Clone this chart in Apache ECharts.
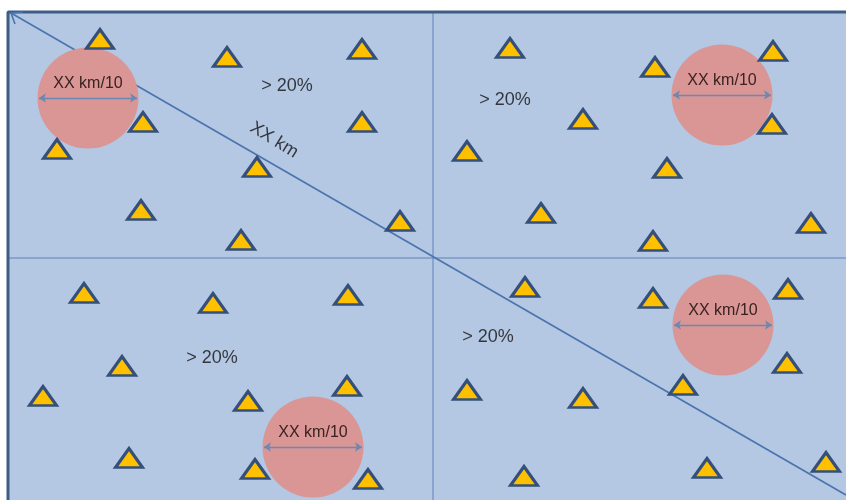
<!DOCTYPE html>
<html>
<head>
<meta charset="utf-8">
<script src="https://cdn.jsdelivr.net/npm/echarts@6/dist/echarts.min.js"></script>
<style>html,body{margin:0;padding:0;background:#fff}#c{width:846px;height:500px}</style>
</head>
<body>
<div id="c"></div>
<script>
// Diagram space: x 0..846, y 0..500 (y downward)
const panel = [[8, 12], [860, 520]];
const borderPath = [[8, 520], [8, 12], [860, 12]];
const dividerV = [[433, 12], [433, 520]];
const dividerH = [[8, 258], [860, 258]];
const diagonal = [[11, 13], [846, 495]];
const arrowHead = [[23, 12], [11, 13], [15, 24]];

const stations = [
  // top-left
  [100, 39], [227, 57], [362, 49], [143, 122], [57, 149], [362, 122], [257, 167], [141, 210], [400, 221], [241, 240],
  // top-right
  [510, 48], [655, 67], [773, 51], [583, 119], [772, 124], [467, 151], [667, 168], [541, 213], [653, 241], [811, 223],
  // bottom-left
  [84, 293], [213, 303], [348, 295], [122, 366], [43, 396], [248, 401], [347, 386], [129, 458], [255, 469], [368, 479],
  // bottom-right
  [525, 287], [653, 298], [788, 289], [787, 363], [467, 390], [583, 398], [683, 385], [524, 476], [707, 468], [826, 462]
];

const circleCenters = [[88, 98], [722, 95], [313, 447], [723, 325]];
const circleRadius = 50;
const circleLabel = 'XX km/10';

const quadrantLabels = [[287, 86], [505, 100], [212, 358], [488, 337]];
const quadrantText = '> 20%';

const distanceLabel = { text: 'XX km', pos: [274, 140] };

function lineSeries(data, color, width, z) {
  return {
    type: 'line', data: data, symbol: 'none', silent: true, z: z,
    lineStyle: { color: color, width: width }, animation: false
  };
}

const arrowLines = circleCenters.map(c => [
  { coord: [c[0] - circleRadius + 1, c[1]] },
  { coord: [c[0] + circleRadius - 1, c[1]] }
]);

const chart = echarts.init(document.getElementById('c'));
chart.setOption({
  animation: false,
  grid: { left: 0, right: 0, top: 0, bottom: 0 },
  xAxis: { type: 'value', min: 0, max: 846, show: false },
  yAxis: { type: 'value', min: 0, max: 500, inverse: true, show: false },
  series: [
    {
      type: 'line', data: [], z: 1, silent: true,
      markArea: {
        silent: true, z: 1,
        itemStyle: { color: '#b4c7e3' },
        data: [[{ coord: panel[0] }, { coord: panel[1] }]]
      }
    },
    lineSeries(dividerV, '#5a83bd', 1, 2),
    lineSeries(dividerH, '#5a83bd', 1, 2),
    lineSeries(borderPath, '#3e5d85', 3, 3),
    lineSeries(diagonal, '#4a74ad', 1.6, 3),
    lineSeries(arrowHead, '#4a74ad', 1.6, 3),
    {
      type: 'scatter', z: 10, silent: true,
      data: circleCenters,
      symbol: 'circle', symbolSize: circleRadius * 2 + 1,
      itemStyle: { color: '#d99694', opacity: 1 },
      label: {
        show: true, formatter: circleLabel, position: 'inside', offset: [0, -14],
        fontFamily: 'Liberation Sans', fontSize: 16, color: '#3a2222'
      },
      markLine: {
        silent: true, z: 11, symbol: ['arrow', 'arrow'], symbolSize: [7, 7],
        lineStyle: { color: '#6a88b4', width: 1.3, type: 'solid' },
        label: { show: false },
        data: arrowLines
      }
    },
    {
      type: 'scatter', z: 12, silent: true,
      data: stations,
      symbol: 'triangle', symbolSize: [27, 19],
      itemStyle: { color: '#ffc000', borderColor: '#34507a', borderWidth: 3, opacity: 1 }
    },
    {
      type: 'scatter', z: 14, silent: true,
      data: quadrantLabels, symbolSize: 0,
      label: {
        show: true, formatter: quadrantText, position: 'inside',
        fontFamily: 'Liberation Sans', fontSize: 18, color: '#111'
      }
    },
    {
      type: 'scatter', z: 14, silent: true,
      data: [distanceLabel.pos], symbolSize: 0,
      label: {
        show: true, formatter: distanceLabel.text, position: 'inside', rotate: -32,
        fontFamily: 'Liberation Sans', fontSize: 18, color: '#111'
      }
    }
  ]
});
</script>
</body>
</html>
